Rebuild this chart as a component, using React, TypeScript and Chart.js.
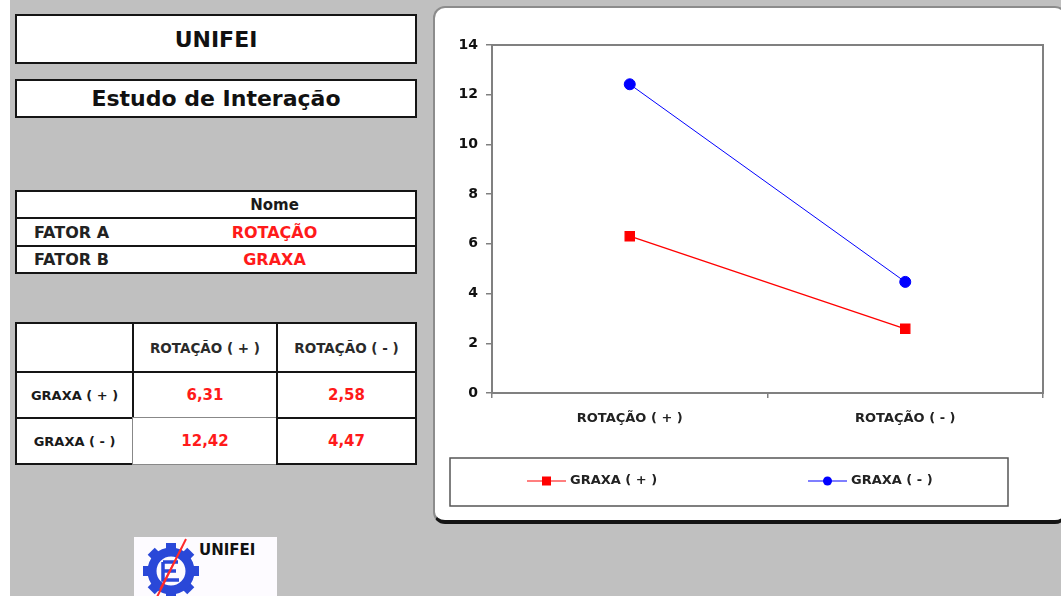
import React, { useEffect, useRef } from "react";
import { Chart, registerables } from "chart.js";

Chart.register(...registerables);

// ---- data ----
const categories = ["ROTAÇÃO ( + )", "ROTAÇÃO ( - )"];
const seriesNames = ["GRAXA ( + )", "GRAXA ( - )"];
const graxaPlus = [6.31, 2.58];
const graxaMinus = [12.42, 4.47];
const yTickValues = [0, 2, 4, 6, 8, 10, 12, 14];
const factorLabels = ["FATOR A", "FATOR B"];
const factorNames = ["ROTAÇÃO", "GRAXA"];
const seriesColors = ["#ff0000", "#0000ff"];

const FONT = '"DejaVu Sans", sans-serif';

const fmt = (v: number) => v.toFixed(2).replace(".", ",");

// custom plugin: plot frame + boxed legend
const framePlugin = {
  id: "frameAndLegend",
  beforeDatasetsDraw(chart: any) {
    const { ctx, chartArea } = chart;
    ctx.save();
    ctx.strokeStyle = "#808080";
    ctx.lineWidth = 2;
    ctx.strokeRect(chartArea.left, chartArea.top, chartArea.right - chartArea.left, chartArea.bottom - chartArea.top);
    ctx.restore();
  },
  afterDraw(chart: any) {
    const { ctx } = chart;
    ctx.save();
    ctx.strokeStyle = "#555";
    ctx.lineWidth = 1.5;
    ctx.strokeRect(15, 450, 558, 48);
    const y = 473;
    chart.data.datasets.forEach((ds: any, i: number) => {
      const x0 = 92 + i * 281;
      ctx.strokeStyle = ds.borderColor;
      ctx.lineWidth = 1.2;
      ctx.beginPath();
      ctx.moveTo(x0, y);
      ctx.lineTo(x0 + 39, y);
      ctx.stroke();
      ctx.fillStyle = ds.pointBackgroundColor;
      if (ds.pointStyle === "rect") {
        ctx.fillRect(x0 + 19.5 - 4.5, y - 4.5, 9, 9);
      } else {
        ctx.beginPath();
        ctx.arc(x0 + 19.5, y, 4.5, 0, Math.PI * 2);
        ctx.fill();
      }
      ctx.fillStyle = "#222";
      ctx.font = `bold 13px ${FONT}`;
      ctx.textBaseline = "middle";
      ctx.textAlign = "left";
      ctx.fillText(ds.label, x0 + 43, y);
    });
    ctx.restore();
  },
};

function ChartBox() {
  const ref = useRef<HTMLCanvasElement | null>(null);
  useEffect(() => {
    if (!ref.current) return;
    const chart = new Chart(ref.current, {
      type: "line",
      data: {
        labels: categories,
        datasets: [
          {
            label: seriesNames[0],
            data: graxaPlus,
            borderColor: seriesColors[0],
            backgroundColor: seriesColors[0],
            pointBackgroundColor: seriesColors[0],
            pointBorderColor: seriesColors[0],
            pointStyle: "rect",
            pointRadius: 6.5,
            borderWidth: 1.3,
            tension: 0,
          },
          {
            label: seriesNames[1],
            data: graxaMinus,
            borderColor: seriesColors[1],
            backgroundColor: seriesColors[1],
            pointBackgroundColor: seriesColors[1],
            pointBorderColor: seriesColors[1],
            pointStyle: "circle",
            pointRadius: 5.5,
            borderWidth: 1,
            tension: 0,
          },
        ],
      },
      options: {
        animation: false,
        responsive: false,
        maintainAspectRatio: false,
        layout: { padding: { left: 0, top: 37, right: 18, bottom: 87 } },
        plugins: { legend: { display: false }, tooltip: { enabled: false } },
        scales: {
          x: {
            type: "category",
            offset: true,
            grid: { offset: true, drawOnChartArea: false, drawTicks: true, tickLength: 5, color: "#808080", lineWidth: 1.5 },
            border: { display: false },
            ticks: { font: { family: FONT, size: 13, weight: "bold" }, color: "#222", padding: 13, maxRotation: 0 },
            afterFit: (s: any) => {
              s.height = 40;
            },
          },
          y: {
            min: 0,
            max: 14,
            afterBuildTicks: (s: any) => {
              s.ticks = yTickValues.map((v) => ({ value: v }));
            },
            ticks: { font: { family: FONT, size: 14, weight: "bold" }, color: "#111", padding: 8 },
            grid: { drawOnChartArea: false, drawTicks: true, tickLength: 6, color: "#808080", lineWidth: 1.5 },
            border: { display: false },
            afterFit: (s: any) => {
              s.width = 57;
            },
          },
        },
      } as any,
      plugins: [framePlugin],
    });
    return () => chart.destroy();
  }, []);
  return (
    <div
      style={{
        position: "absolute",
        left: 433,
        top: 6,
        width: 634,
        height: 518,
        boxSizing: "border-box",
        background: "#fff",
        border: "2px solid #8c8c8c",
        borderBottom: "4px solid #151515",
        borderRadius: 12,
      }}
    >
      <canvas ref={ref} width={626} height={512} style={{ position: "absolute", left: 0, top: 0, width: 626, height: 512 }} />
    </div>
  );
}

const abs = (l: number, t: number, w: number, h: number): React.CSSProperties => ({
  position: "absolute",
  left: l,
  top: t,
  width: w,
  height: h,
  boxSizing: "border-box",
});

function Cell(props: {
  x1: number;
  y1: number;
  x2: number;
  y2: number;
  text?: string;
  color?: string;
  size?: number;
  align?: "left" | "center";
  padLeft?: number;
  border?: string;
}) {
  const { x1, y1, x2, y2, text, color = "#1a1a1a", size = 13, align = "center", padLeft = 0, border = "2px solid #151515" } = props;
  return (
    <div
      style={{
        ...abs(x1 - 1, y1 - 1, x2 - x1 + 2, y2 - y1 + 2),
        border,
        background: "#fff",
        display: "flex",
        alignItems: "center",
        justifyContent: align === "center" ? "center" : "flex-start",
        paddingLeft: padLeft,
        fontFamily: FONT,
        fontWeight: "bold",
        fontSize: size,
        color,
        whiteSpace: "nowrap",
      }}
    >
      {text}
    </div>
  );
}

function Logo() {
  const teeth = [0, 45, 90, 135, 180, 225, 270, 315];
  return (
    <div style={{ ...abs(134, 537, 143, 62), background: "#fdfbff" }}>
      <svg width={143} height={62} style={{ position: "absolute", left: 0, top: 0 }}>
        <g transform="translate(37,34)">
          {teeth.map((a) => (
            <rect key={a} x={-5} y={-28} width={10} height={10} fill="#2a48d8" transform={`rotate(${a})`} />
          ))}
          <circle r={19} fill="none" stroke="#2a48d8" strokeWidth={9} />
          <path d="M-8 -9 H7 M-8 -9 V9 H8 M-8 0 H5" stroke="#2a48d8" strokeWidth={3.5} fill="none" />
        </g>
        <line x1={52} y1={2} x2={22} y2={62} stroke="#ff2a2a" strokeWidth={2} />
        <line x1={48} y1={10} x2={26} y2={52} stroke="#ff2a2a" strokeWidth={1.5} />
        <text x={65} y={18} fontFamily={FONT} fontWeight="bold" fontSize={15} fill="#111">
          UNIFEI
        </text>
      </svg>
    </div>
  );
}

export default function App() {
  useEffect(() => {
    document.body.style.margin = "0";
    document.body.style.overflow = "hidden";
  }, []);
  const nx = [16, 416];
  const ny = [191, 218, 246, 273];
  const dx = [16, 133, 277, 416];
  const dy = [323, 372, 418, 464];
  const values = [graxaPlus, graxaMinus];
  return (
    <div style={{ position: "fixed", left: 0, top: 0, width: 1061, height: 596, background: "#c0c0c0", overflow: "hidden" }}>
      <div style={{ ...abs(0, 0, 10, 596), background: "#fff" }} />
      <Cell x1={16} y1={15} x2={416} y2={63} text="UNIFEI" size={22} color="#111" />
      <Cell x1={16} y1={80} x2={416} y2={117} text="Estudo de Interação" size={22} color="#111" />

      {/* factor table */}
      <Cell x1={nx[0]} y1={ny[0]} x2={nx[1]} y2={ny[1]} />
      <div style={{ ...abs(133, ny[0], 283, ny[1] - ny[0]), display: "flex", alignItems: "center", justifyContent: "center", fontFamily: FONT, fontWeight: "bold", fontSize: 15, color: "#1a1a1a" }}>
        Nome
      </div>
      {factorLabels.map((f, i) => (
        <React.Fragment key={f}>
          <Cell x1={nx[0]} y1={ny[i + 1]} x2={nx[1]} y2={ny[i + 2]} text={f} size={16} align="left" padLeft={17} color="#222" />
          <div style={{ ...abs(133, ny[i + 1], 283, ny[i + 2] - ny[i + 1]), display: "flex", alignItems: "center", justifyContent: "center", fontFamily: FONT, fontWeight: "bold", fontSize: 16, color: "#ff1a1a" }}>
            {factorNames[i]}
          </div>
        </React.Fragment>
      ))}

      {/* data table */}
      <Cell x1={dx[0]} y1={dy[0]} x2={dx[1]} y2={dy[1]} />
      {categories.map((c, j) => (
        <Cell key={c} x1={dx[j + 1]} y1={dy[0]} x2={dx[j + 2]} y2={dy[1]} text={c} size={13.5} color="#2a2a2a" />
      ))}
      {seriesNames.map((s, i) => (
        <React.Fragment key={s}>
          <Cell x1={dx[0]} y1={dy[i + 1]} x2={dx[1]} y2={dy[i + 2]} text={s} size={13} color="#1a1a1a" />
          {values[i].map((v, j) => (
            <Cell
              key={j}
              x1={dx[j + 1]}
              y1={dy[i + 1]}
              x2={dx[j + 2]}
              y2={dy[i + 2]}
              text={fmt(v)}
              size={15}
              color="#ff1a1a"
              border={i === 1 && j === 0 ? "1px solid #888" : "2px solid #151515"}
            />
          ))}
        </React.Fragment>
      ))}

      <Logo />
      <ChartBox />
    </div>
  );
}
